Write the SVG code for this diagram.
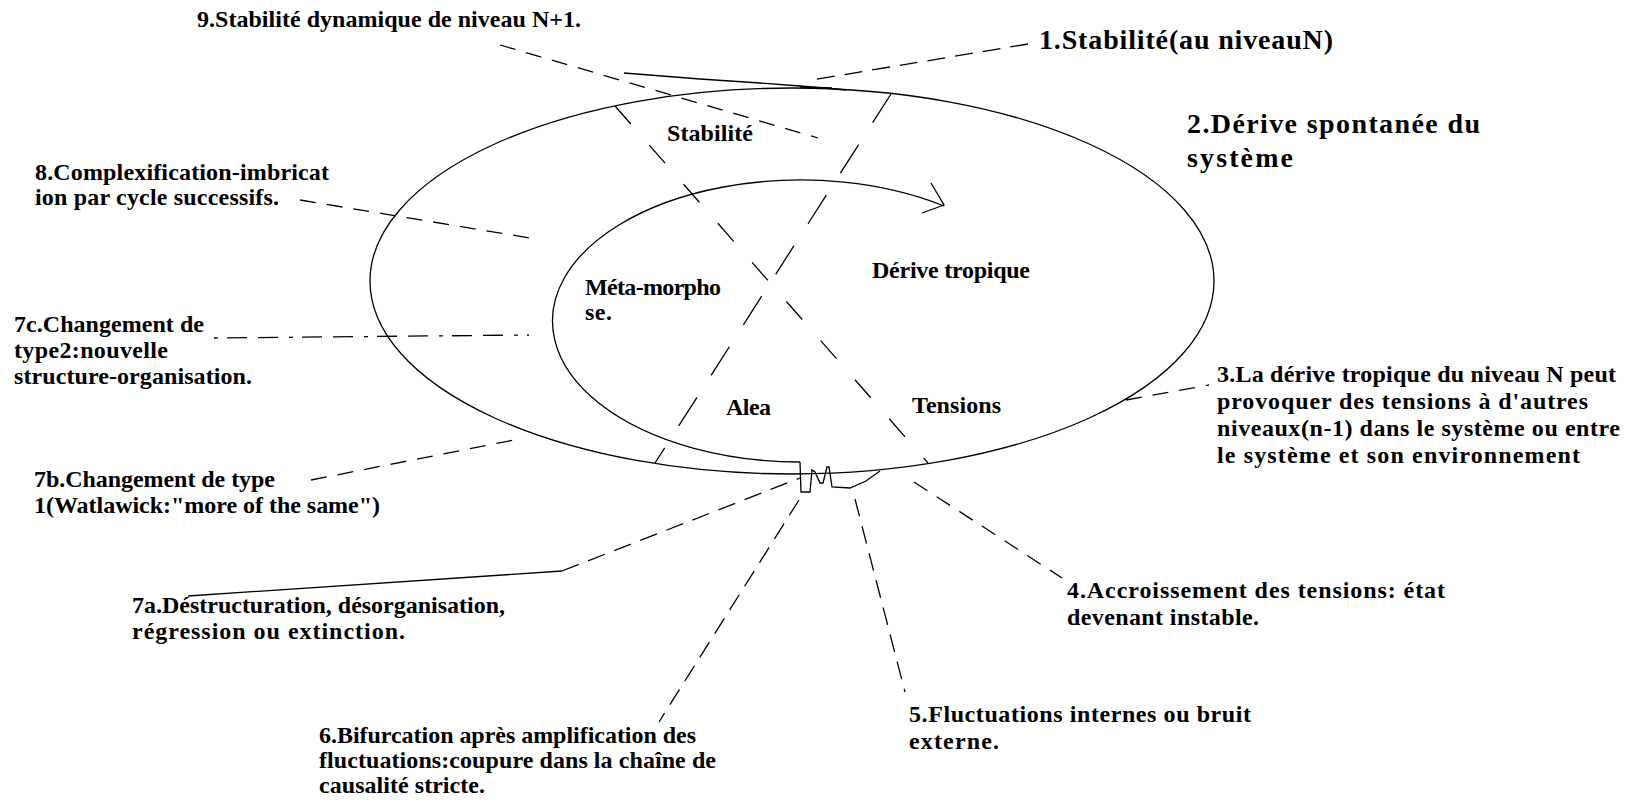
<svg xmlns="http://www.w3.org/2000/svg" width="1629" height="800" viewBox="0 0 1629 800">
<style>
text{font-family:"Liberation Serif","Times New Roman",serif;font-weight:bold;font-size:24px;fill:#000}
.big{font-size:28px}
.s{fill:none;stroke:#000;stroke-width:1.3}
.dA{stroke-dasharray:24 28}
.dB{stroke-dasharray:34 26}
.dS{stroke-dasharray:16 11}
.dM{stroke-dasharray:18 10}
.dC{stroke-dasharray:4 9 20 11 20 11}
</style>
<rect width="1629" height="800" fill="#fff"/>

<g id="cycle">
  <ellipse class="s" cx="792" cy="281" rx="422" ry="193"/>
  <path class="s" d="M944,206 A248,141 0 1 0 800,462"/>
  <path class="s" d="M931,183 L944,205 L922,213"/>
  <path class="s" d="M624,73 L700,79 L760,83 L800,86 L846,90"/>
  <path class="s" stroke-width="3" d="M800,87 L832,88"/>
  <path class="s" d="M800,462 L801,492 L810,492 L812,470 L815,472 L820,483 L823,483 L827,467 L829,467 L832,487 L850,488 L866,481 L880,471"/>
</g>

<g id="connectors">
  <path id="c9" class="s dS" d="M500,45 L818,138"/>
  <path id="c1" class="s dM" d="M1028,44 L812,80"/>
  <path id="c8" class="s dS" d="M300,200 L536,239"/>
  <path id="c7c" class="s dC" d="M214,338 L529,335"/>
  <path id="c7b" class="s dS" d="M311,480 L514,440"/>
  <path id="c7a" class="s" d="M188,596 L562,571"/>
  <path id="c7a-d" class="s dM" d="M562,571 L800,478"/>
  <path id="c6" class="s dM" d="M799,500 L659,722"/>
  <path id="c5" class="s dM" d="M855,499 L905,692"/>
  <path id="c4" class="s dS" d="M914,482 L1062,578"/>
  <path id="c3" class="s dS" d="M1126,400 L1209,385"/>
  <path id="lineA" class="s dA" d="M615,106 L928,463"/>
  <path id="lineB" class="s dB" d="M891,94 L655,463"/>
</g>

<g id="n9"><text x="197" y="27" textLength="384">9.Stabilité dynamique de niveau N+1.</text></g>
<g id="n1"><text class="big" x="1039" y="49" textLength="294">1.Stabilité(au niveauN)</text></g>
<g id="n2">
  <text class="big" x="1187" y="133" textLength="293">2.Dérive spontanée du</text>
  <text class="big" x="1187" y="167" textLength="106">système</text>
</g>
<g id="n8">
  <text x="35" y="180" textLength="294">8.Complexification-imbricat</text>
  <text x="35" y="205" textLength="244">ion par cycle successifs.</text>
</g>
<g id="stabilite"><text x="667" y="141" textLength="86">Stabilité</text></g>
<g id="metamorphose">
  <text x="585" y="295" textLength="136">Méta-morpho</text>
  <text x="585" y="320" textLength="27">se.</text>
</g>
<g id="derive-tropique"><text x="872" y="278" textLength="158">Dérive tropique</text></g>
<g id="alea"><text x="726" y="415" textLength="45">Alea</text></g>
<g id="tensions"><text x="912" y="413" textLength="89">Tensions</text></g>
<g id="n7c">
  <text x="14" y="332" textLength="190">7c.Changement de</text>
  <text x="14" y="358" textLength="154">type2:nouvelle</text>
  <text x="14" y="384" textLength="238">structure-organisation.</text>
</g>
<g id="n3">
  <text x="1217" y="382" textLength="399">3.La dérive tropique du niveau N peut</text>
  <text x="1217" y="409" textLength="371">provoquer des tensions à d'autres</text>
  <text x="1217" y="436" textLength="403">niveaux(n-1) dans le système ou entre</text>
  <text x="1217" y="463" textLength="363">le système et son environnement</text>
</g>
<g id="n7b">
  <text x="34" y="487" textLength="241">7b.Changement de type</text>
  <text x="34" y="513" textLength="346">1(Watlawick:"more of the same")</text>
</g>
<g id="n7a">
  <text x="132" y="613" textLength="373">7a.Déstructuration, désorganisation,</text>
  <text x="132" y="639" textLength="273">régression ou extinction.</text>
</g>
<g id="n4">
  <text x="1067" y="598" textLength="378">4.Accroissement des tensions: état</text>
  <text x="1067" y="625" textLength="192">devenant instable.</text>
</g>
<g id="n5">
  <text x="909" y="722" textLength="342">5.Fluctuations internes ou bruit</text>
  <text x="909" y="749" textLength="90">externe.</text>
</g>
<g id="n6">
  <text x="319" y="743" textLength="377">6.Bifurcation après amplification des</text>
  <text x="319" y="768" textLength="397">fluctuations:coupure dans la chaîne de</text>
  <text x="319" y="793" textLength="166">causalité stricte.</text>
</g>
</svg>
